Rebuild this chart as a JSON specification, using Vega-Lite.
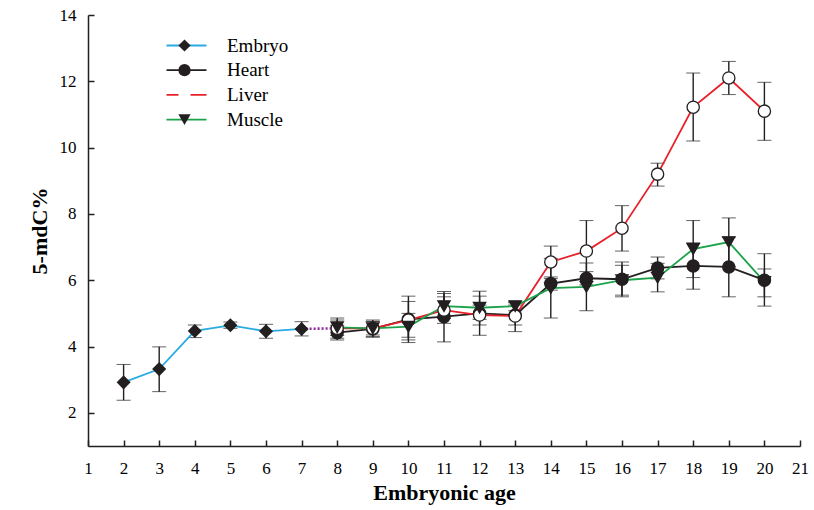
{
  "$schema": "https://vega.github.io/schema/vega-lite/v6.json",
  "width": 712,
  "height": 431,
  "autosize": "none",
  "padding": {"left": 88, "top": 15, "right": 14, "bottom": 64},
  "background": "white",
  "config": {
    "font": "Liberation Serif, Times New Roman, serif",
    "view": {"stroke": null},
    "legend": {"labelFont": "Liberation Serif, Times New Roman, serif", "labelFontSize": 19, "labelColor": "black", "padding": 0, "rowPadding": 4.7}
  },
  "datasets": {
    "main": [
      {"series": "Embryo", "tissue": "Embryo", "day": 2, "value": 2.92, "lo": 2.38, "hi": 3.46},
      {"series": "Embryo", "tissue": "Embryo", "day": 3, "value": 3.32, "lo": 2.64, "hi": 3.99},
      {"series": "Embryo", "tissue": "Embryo", "day": 4, "value": 4.47, "lo": 4.27, "hi": 4.65},
      {"series": "Embryo", "tissue": "Embryo", "day": 5, "value": 4.64, "lo": 4.55, "hi": 4.74},
      {"series": "Embryo", "tissue": "Embryo", "day": 6, "value": 4.46, "lo": 4.25, "hi": 4.67},
      {"series": "Embryo", "tissue": "Embryo", "day": 7, "value": 4.53, "lo": 4.32, "hi": 4.75},
      {"series": "Heart", "tissue": "Heart", "day": 8, "value": 4.42, "lo": 4.2, "hi": 4.64},
      {"series": "Heart", "tissue": "Heart", "day": 9, "value": 4.53, "lo": 4.3, "hi": 4.76},
      {"series": "Heart", "tissue": "Heart", "day": 10, "value": 4.82, "lo": 4.28, "hi": 5.36},
      {"series": "Heart", "tissue": "Heart", "day": 11, "value": 4.9, "lo": 4.14, "hi": 5.66},
      {"series": "Heart", "tissue": "Heart", "day": 12, "value": 5.0, "lo": 4.34, "hi": 5.67},
      {"series": "Heart", "tissue": "Heart", "day": 13, "value": 4.95, "lo": 4.65, "hi": 5.25},
      {"series": "Heart", "tissue": "Heart", "day": 14, "value": 5.9, "lo": 5.7, "hi": 6.1},
      {"series": "Heart", "tissue": "Heart", "day": 15, "value": 6.06, "lo": 5.86, "hi": 6.26},
      {"series": "Heart", "tissue": "Heart", "day": 16, "value": 6.03, "lo": 5.5, "hi": 6.55},
      {"series": "Heart", "tissue": "Heart", "day": 17, "value": 6.37, "lo": 6.04, "hi": 6.7},
      {"series": "Heart", "tissue": "Heart", "day": 18, "value": 6.43, "lo": 5.73, "hi": 7.13},
      {"series": "Heart", "tissue": "Heart", "day": 19, "value": 6.4, "lo": 5.5, "hi": 7.3},
      {"series": "Heart", "tissue": "Heart", "day": 20, "value": 6.0, "lo": 5.5, "hi": 6.34},
      {"series": "Liver", "tissue": "Liver", "day": 8, "value": 4.55, "lo": 4.25, "hi": 4.86},
      {"series": "Liver", "tissue": "Liver", "day": 9, "value": 4.55, "lo": 4.35, "hi": 4.75},
      {"series": "Liver", "tissue": "Liver", "day": 10, "value": 4.8, "lo": 4.12, "hi": 5.52},
      {"series": "Liver", "tissue": "Liver", "day": 11, "value": 5.1, "lo": 4.7, "hi": 5.5},
      {"series": "Liver", "tissue": "Liver", "day": 12, "value": 4.95, "lo": 4.65, "hi": 5.25},
      {"series": "Liver", "tissue": "Liver", "day": 13, "value": 4.92, "lo": 4.45, "hi": 5.32},
      {"series": "Liver", "tissue": "Liver", "day": 14, "value": 6.55, "lo": 6.05, "hi": 7.03},
      {"series": "Liver", "tissue": "Liver", "day": 15, "value": 6.88, "lo": 5.96, "hi": 7.8},
      {"series": "Liver", "tissue": "Liver", "day": 16, "value": 7.57, "lo": 6.88, "hi": 8.25},
      {"series": "Liver", "tissue": "Liver", "day": 17, "value": 9.2, "lo": 8.84, "hi": 9.53},
      {"series": "Liver", "tissue": "Liver", "day": 18, "value": 11.22, "lo": 10.2, "hi": 12.25},
      {"series": "Liver", "tissue": "Liver", "day": 19, "value": 12.1, "lo": 11.6, "hi": 12.6},
      {"series": "Liver", "tissue": "Liver", "day": 20, "value": 11.1, "lo": 10.22, "hi": 11.97},
      {"series": "Muscle", "tissue": "Muscle", "day": 8, "value": 4.58, "lo": 4.33, "hi": 4.8},
      {"series": "Muscle", "tissue": "Muscle", "day": 9, "value": 4.55, "lo": 4.28, "hi": 4.8},
      {"series": "Muscle", "tissue": "Muscle", "day": 10, "value": 4.6, "lo": 4.2, "hi": 5.0},
      {"series": "Muscle", "tissue": "Muscle", "day": 11, "value": 5.22, "lo": 4.85, "hi": 5.6},
      {"series": "Muscle", "tissue": "Muscle", "day": 12, "value": 5.17, "lo": 4.82, "hi": 5.52},
      {"series": "Muscle", "tissue": "Muscle", "day": 13, "value": 5.22, "lo": 5.08, "hi": 5.34},
      {"series": "Muscle", "tissue": "Muscle", "day": 14, "value": 5.76, "lo": 4.86, "hi": 6.66},
      {"series": "Muscle", "tissue": "Muscle", "day": 15, "value": 5.8, "lo": 5.08, "hi": 6.52},
      {"series": "Muscle", "tissue": "Muscle", "day": 16, "value": 6.0, "lo": 5.55, "hi": 6.45},
      {"series": "Muscle", "tissue": "Muscle", "day": 17, "value": 6.08, "lo": 5.65, "hi": 6.51},
      {"series": "Muscle", "tissue": "Muscle", "day": 18, "value": 6.94, "lo": 6.08, "hi": 7.8},
      {"series": "Muscle", "tissue": "Muscle", "day": 19, "value": 7.15, "lo": 6.42, "hi": 7.88},
      {"series": "Muscle", "tissue": "Muscle", "day": 20, "value": 5.95, "lo": 5.22, "hi": 6.8}
    ],
    "link": [
      {"day": 7, "value": 4.53},
      {"day": 8, "value": 4.55}
    ]
  },
  "encoding": {
    "x": {
      "field": "day", "type": "quantitative",
      "scale": {"domain": [1, 21], "nice": false, "zero": false},
      "axis": {
        "values": [1,2,3,4,5,6,7,8,9,10,11,12,13,14,15,16,17,18,19,20,21],
        "format": "d", "grid": false, "tickSize": -6, "labelPadding": 20,
        "labelFont": "Liberation Serif, Times New Roman, serif", "labelFontSize": 17, "labelColor": "black",
        "domainColor": "#231f20", "tickColor": "#231f20", "domainWidth": 1.5, "tickWidth": 1.5,
        "title": "Embryonic age", "titleFont": "Liberation Serif, Times New Roman, serif", "titleFontSize": 22,
        "titleFontWeight": "bold", "titleColor": "black", "titlePadding": 6, "labelFlush": false
      }
    }
  },
  "layer": [
    {
      "data": {"name": "main"},
      "mark": {"type": "errorbar", "ticks": {"size": 14, "color": "#231f20", "strokeWidth": 1.4}, "rule": {"color": "#231f20", "strokeWidth": 1.4}},
      "encoding": {
        "y": {"field": "lo", "type": "quantitative", "scale": {"domain": [1, 14], "nice": false, "zero": false},
          "axis": {"values": [2,4,6,8,10,12,14], "grid": false, "tickSize": -6, "labelPadding": 18,
            "labelFont": "Liberation Serif, Times New Roman, serif", "labelFontSize": 17, "labelColor": "black",
            "domainColor": "#231f20", "tickColor": "#231f20", "domainWidth": 1.5, "tickWidth": 1.5,
            "title": "5-mdC%", "titleFont": "Liberation Serif, Times New Roman, serif", "titleFontSize": 22, "titleFontWeight": "bold",
            "titleColor": "black", "titlePadding": 8}},
        "y2": {"field": "hi"}
      }
    },
    {
      "data": {"name": "link"},
      "mark": {"type": "line", "color": "#8e2a9c", "strokeDash": [2, 2], "strokeWidth": 2.6},
      "encoding": {
        "y": {"field": "value", "type": "quantitative", "scale": {"domain": [1, 14], "nice": false, "zero": false},
          "axis": {"values": [2,4,6,8,10,12,14], "grid": false, "tickSize": -6, "labelPadding": 18,
            "labelFont": "Liberation Serif, Times New Roman, serif", "labelFontSize": 17, "labelColor": "black",
            "domainColor": "#231f20", "tickColor": "#231f20", "domainWidth": 1.5, "tickWidth": 1.5,
            "title": "5-mdC%", "titleFont": "Liberation Serif, Times New Roman, serif", "titleFontSize": 22, "titleFontWeight": "bold",
            "titleColor": "black", "titlePadding": 8}}
      }
    },
    {
      "data": {"name": "main"},
      "mark": {"type": "line", "strokeWidth": 1.8},
      "encoding": {
        "y": {"field": "value", "type": "quantitative", "scale": {"domain": [1, 14], "nice": false, "zero": false},
          "axis": {"values": [2,4,6,8,10,12,14], "grid": false, "tickSize": -6, "labelPadding": 18,
            "labelFont": "Liberation Serif, Times New Roman, serif", "labelFontSize": 17, "labelColor": "black",
            "domainColor": "#231f20", "tickColor": "#231f20", "domainWidth": 1.5, "tickWidth": 1.5,
            "title": "5-mdC%", "titleFont": "Liberation Serif, Times New Roman, serif", "titleFontSize": 22, "titleFontWeight": "bold",
            "titleColor": "black", "titlePadding": 8}},
        "stroke": {
          "field": "series", "type": "nominal",
          "scale": {"range": ["#29abe2", "#231f20", "#e8202a", "#1ba24a"]},
          "legend": {"title": null, "orient": "none", "legendX": 89, "legendY": 21, "symbolType": "M-5,0H5", "symbolSize": 64, "symbolStrokeWidth": 1.8, "labelOffset": 31}
        }
      }
    },
    {
      "data": {"name": "main"},
      "mark": {"type": "point", "filled": false, "size": 150, "stroke": "#231f20", "strokeWidth": 1.3, "opacity": 1},
      "encoding": {
        "y": {"field": "value", "type": "quantitative", "scale": {"domain": [1, 14], "nice": false, "zero": false},
          "axis": {"values": [2,4,6,8,10,12,14], "grid": false, "tickSize": -6, "labelPadding": 18,
            "labelFont": "Liberation Serif, Times New Roman, serif", "labelFontSize": 17, "labelColor": "black",
            "domainColor": "#231f20", "tickColor": "#231f20", "domainWidth": 1.5, "tickWidth": 1.5,
            "title": "5-mdC%", "titleFont": "Liberation Serif, Times New Roman, serif", "titleFontSize": 22, "titleFontWeight": "bold",
            "titleColor": "black", "titlePadding": 8}},
        "shape": {
          "field": "tissue", "type": "nominal",
          "scale": {"range": ["diamond", "circle", "circle", "triangle-down"]},
          "legend": {"title": null, "orient": "none", "legendX": 87, "legendY": 21, "symbolSize": 150, "symbolStrokeColor": "#231f20", "symbolStrokeWidth": 1.3, "labelExpr": "''", "labelOffset": 27,
            "encode": {"symbols": {"stroke": {"value": "#231f20"}, "strokeWidth": {"value": 1.3}, "strokeOpacity": {"value": 1}}}}
        },
        "fill": {
          "field": "tissue", "type": "nominal",
          "scale": {"range": ["#231f20", "#231f20", "#ffffff", "#231f20"]},
          "legend": {"title": null, "orient": "none", "legendX": 87, "legendY": 21, "symbolSize": 150, "symbolStrokeColor": "#231f20", "symbolStrokeWidth": 1.3, "labelExpr": "''", "labelOffset": 27,
            "encode": {"symbols": {"stroke": {"value": "#231f20"}, "strokeWidth": {"value": 1.3}, "strokeOpacity": {"value": 1}}}}
        }
      }
    }
  ]
}
